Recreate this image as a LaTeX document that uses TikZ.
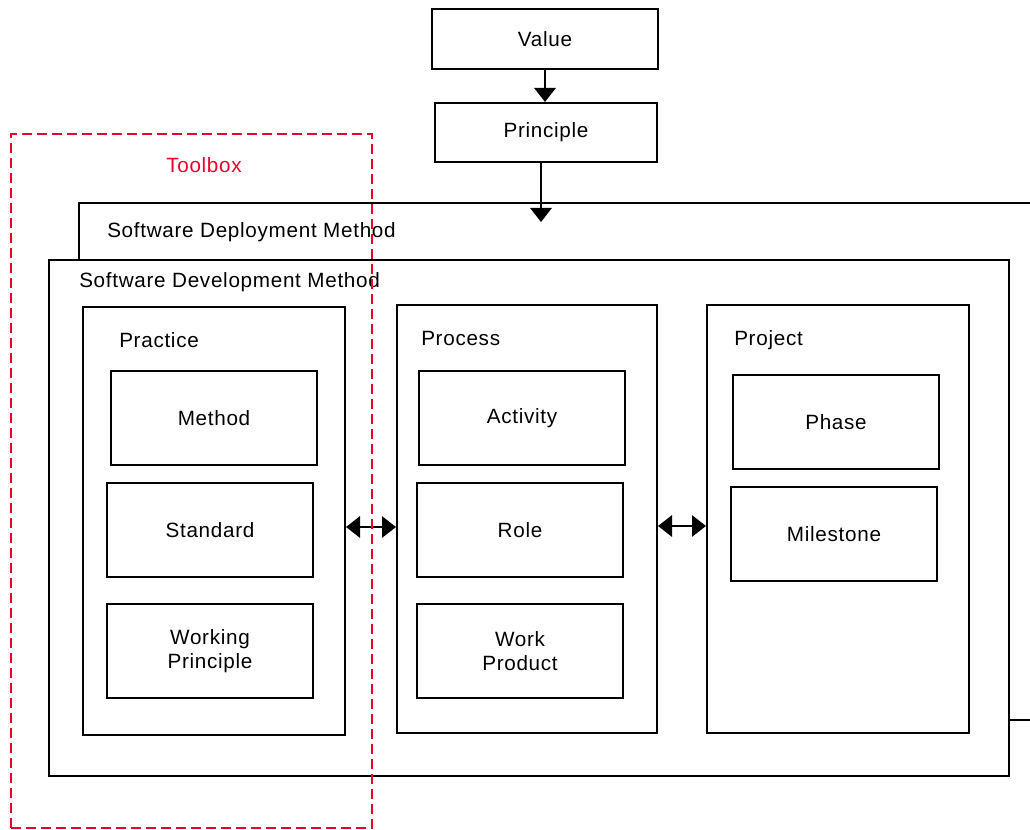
\documentclass[tikz,border=0pt]{standalone}
\usepackage{fontspec}
\setmainfont{Liberation Sans}[LetterSpace=3.4]
\usetikzlibrary{arrows.meta,positioning}
\usepackage{xcolor}
\definecolor{toolred}{RGB}{232,0,42}

\begin{document}
\begin{tikzpicture}[
        x=0.75pt, y=-0.75pt,
        every node/.style={font=\fontsize{15.5}{18}\selectfont},
        box/.style={draw, rectangle, fill=white, line width=1.5pt, minimum width=154.5pt, minimum height=70.5pt, align=center, inner sep=0pt},
        group/.style={draw, rectangle, fill=white, line width=1.5pt, minimum width=196.5pt, minimum height=321pt, inner sep=0pt},
        title/.style={anchor=west, inner sep=0pt},
        toolbox/.style={draw=toolred, dash pattern=on 7.5pt off 3.75pt, line width=1.5pt, rectangle, minimum width=270.75pt, minimum height=520.5pt, inner sep=0pt},
        arrow/.style={-{Triangle[length=10.5pt,width=16pt]}, line width=1.5pt},
        dblarrow/.style={{Triangle[length=10.5pt,width=16pt]}-{Triangle[length=10.5pt,width=16pt]}, line width=1.5pt}
    ]
        \clip (0,0) rectangle (1030,830);

        % Value and principle on top
        \node[box, minimum width=169.5pt, minimum height=45pt] (value) at (545,39) {Value};
        \node[box, minimum width=166.5pt, minimum height=44.25pt] (principle) at (546,132.5) {Principle};

        % Method boxes - deployment behind development
        \node[group, minimum width=728.25pt, minimum height=387.75pt] (deploy) at (564.5,461.5) {};
        \node[title] (deploytitle) at (107,232) {Software Deployment Method};
        \node[group, minimum width=720pt, minimum height=387pt] (develop) at (529,518) {};
        \node[title] (developtitle) at (79,282) {Software Development Method};

        % Practice column
        \node[group] (practice) at (214,521) {};
        \node[title] (practicetitle) at (119,340) {Practice};
        \node[box] (method) at (214,418) {Method};
        \node[box] (standard) at (210,530) {Standard};
        \node[box] (working) at (210,651) {Working\\Principle};

        % Process column
        \node[group, minimum width=195pt] (process) at (527,519) {};
        \node[title] (processtitle) at (421,338) {Process};
        \node[box] (activity) at (522,418) {Activity};
        \node[box] (role) at (520,530) {Role};
        \node[box] (product) at (520,651) {Work\\Product};

        % Project column
        \node[group] (project) at (838,519) {};
        \node[title] (projecttitle) at (734,340) {Project};
        \node[box] (phase) at (836,422) {Phase};
        \node[box] (milestone) at (834,534) {Milestone};

        % Arrows
        \coordinate (entry) at (541,222);
        \draw[arrow] (value.south) -- (value.south |- principle.north);
        \draw[arrow] (principle.south -| entry) -- (entry);
        \draw[dblarrow] ([yshift=2.25pt]practice.east |- standard) -- ([yshift=2.25pt]process.west |- standard);
        \draw[dblarrow] ([yshift=3pt]process.east |- role) -- ([yshift=3pt]project.west |- role);

        % Toolbox overlay
        \node[toolbox] (toolbox) at (191.5,481) {};
        \node[text=toolred] (toolboxtitle) at (204,165) {Toolbox};
    \end{tikzpicture}
\end{document}
